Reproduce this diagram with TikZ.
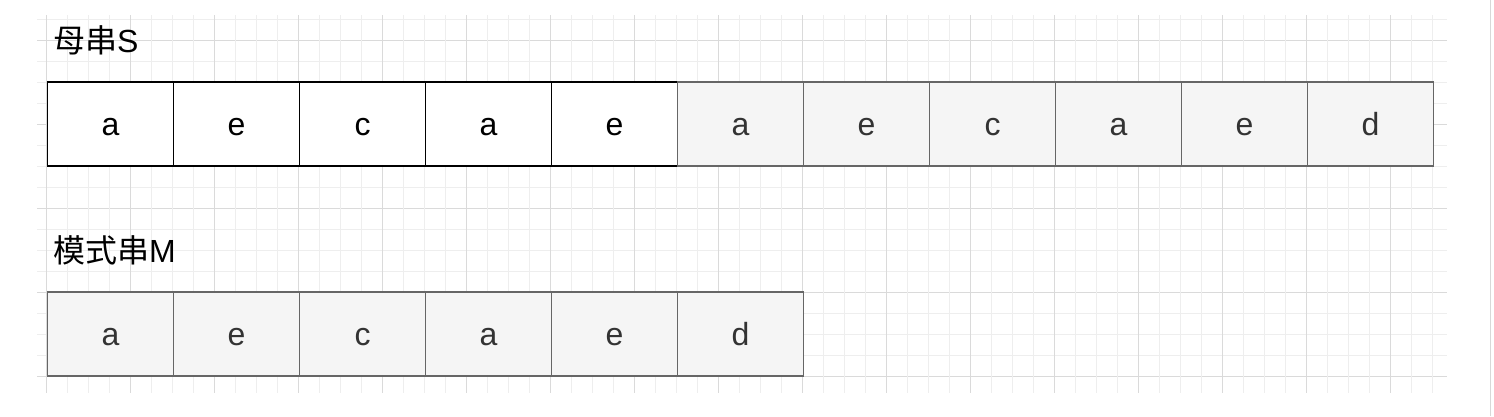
\documentclass[tikz,border=0pt]{standalone}
\usepackage{fontspec}
\setmainfont{Liberation Sans}
\newfontfamily\cjk{Noto Sans CJK SC}
\definecolor{gridminor}{HTML}{EEEEEE}
\definecolor{gridmajor}{HTML}{DADADA}
\definecolor{cellfill}{HTML}{F5F5F5}
\definecolor{cellline}{HTML}{666666}
\definecolor{celltext}{HTML}{333333}
\definecolor{edgeline}{HTML}{D8D8D8}
\tikzset{
  cellbase/.style={rectangle, minimum width=126pt, minimum height=84pt, inner sep=0pt, line width=1.8pt, text height=22pt, text depth=0pt, font=\fontsize{32}{38}\selectfont},
  whitecell/.style={cellbase, draw=black, fill=white, text=black},
  greycell/.style={cellbase, draw=cellline, fill=cellfill, text=celltext},
  title/.style={anchor=base west, inner sep=0pt, font=\fontsize{32}{38}\selectfont}
}
\begin{document}
\begin{tikzpicture}[x=1pt, y=-1pt]
\useasboundingbox (0,0) rectangle (1494,416);
\fill[white] (0,0) rectangle (1494,416);
% grid
\foreach \k in {0,...,17} {
  \pgfmathsetmacro{\yy}{19+21*\k}
  \pgfmathtruncatemacro{\mj}{mod(\k+3,4)==0 ? 1 : 0}
  \ifnum\mj=1
    \draw[gridmajor, line width=1pt] (37,\yy) -- (1447,\yy);
  \else
    \draw[gridminor, line width=1pt] (37,\yy) -- (1447,\yy);
  \fi
}
\foreach \k in {0,...,66} {
  \pgfmathsetmacro{\xx}{46.5+21*\k}
  \pgfmathtruncatemacro{\mj}{mod(\k,4)==0 ? 1 : 0}
  \ifnum\mj=1
    \draw[gridmajor, line width=1pt] (\xx,15) -- (\xx,393);
  \else
    \draw[gridminor, line width=1pt] (\xx,15) -- (\xx,393);
  \fi
}
\draw[edgeline, line width=1pt] (1490,0) -- (1490,416);
% titles
\node[title] (ts) at (53,52) {{\cjk 母串}S};
\node[title] (tm) at (53,262) {{\cjk 模式串}M};
% main string S
\foreach \c [count=\i] in {a,e,c,a,e} {
  \node[whitecell] (s\i) at ({110.5+126*(\i-1)},124) {\c};
}
\foreach \c [count=\j] in {a,e,c,a,e,d} {
  \pgfmathtruncatemacro{\i}{\j+5}
  \node[greycell] (s\i) at ({110.5+126*(\i-1)},124) {\c};
}
% pattern M
\foreach \c [count=\i] in {a,e,c,a,e,d} {
  \node[greycell] (m\i) at ({110.5+126*(\i-1)},334) {\c};
}
\end{tikzpicture}
\end{document}
